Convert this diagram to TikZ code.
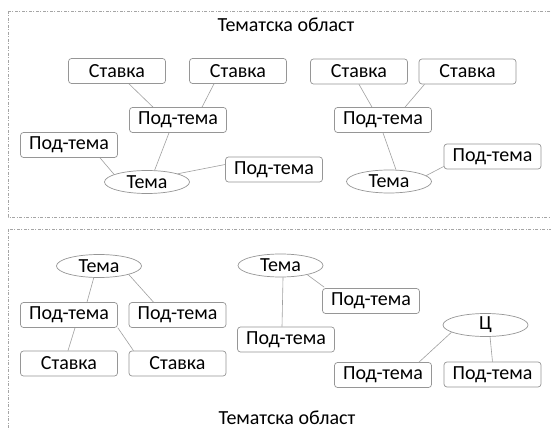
\documentclass[tikz,border=0pt]{standalone}
\usepackage{fontspec}
\setmainfont{Carlito}
\usetikzlibrary{shapes.geometric}
\definecolor{frame}{RGB}{150,150,150}
\definecolor{link}{RGB}{160,160,160}
\definecolor{area}{RGB}{165,165,165}
\begin{document}
\begin{tikzpicture}[x=1pt,y=-1pt,
  every node/.style={font=\fontsize{20}{22}\selectfont, text=black},
  topicbox/.style={draw=frame, line width=0.7pt, rounded corners=3pt,
    minimum width=97pt, minimum height=25pt, inner sep=0pt},
  topicoval/.style={draw=frame, line width=0.7pt, ellipse,
    minimum width=85pt, minimum height=23pt, inner sep=0pt},
  areaframe/.style={draw=area, line width=0.6pt,
    dash pattern=on 3pt off 1.5pt on 1pt off 1.5pt},
  linkline/.style={draw=link, line width=0.6pt}]
\useasboundingbox (0,0) rectangle (551,430);
\clip (0,0) rectangle (551,430);
\fill[white] (0,0) rectangle (551,430);

% the two subject areas
\draw[areaframe] (8,11) rectangle (570,217);
\draw[areaframe] (8,229) rectangle (570,450);
\node (title1) at (286,25) {Тематска област};
\node[inner sep=0pt] (title2) at (287,418) {Тематска област};

% upper area, left tree
\node[topicbox] (s1) at (117,71) {Ставка};
\node[topicbox] (s2) at (238,71) {Ставка};
\node[topicbox] (p1) at (178,120) {Под-тема};
\node[topicbox] (pl) at (69,145) {Под-тема};
\node[topicbox] (pr) at (274,169.5) {Под-тема};
\node[topicoval] (t1) at (147,182) {Тема};

\draw[linkline] ([xshift=12pt]s1.south) -- ([xshift=-25pt]p1.north);
\draw[linkline] ([xshift=-24pt]s2.south) -- ([xshift=24pt]p1.north);
\draw[linkline] ([xshift=-9pt]p1.south) -- (t1.57);
\draw[linkline] ([xshift=31pt]pl.south) -- (t1.167);
\draw[linkline] (t1.15) -- ([yshift=5pt]pr.west);

% upper area, right tree
\node[topicbox] (s3) at (359,71.5) {Ставка};
\node[topicbox] (s4) at (467.5,71.5) {Ставка};
\node[topicbox] (p2) at (383,120) {Под-тема};
\node[topicbox] (q1) at (492.5,156.5) {Под-тема};
\node[topicoval] (t2) at (389,181.5) {Тема};

\draw[linkline] (s3.south) -- ([xshift=-11pt]p2.north);
\draw[linkline] ([xshift=-43pt]s4.south) -- ([xshift=22pt]p2.north);
\draw[linkline] (p2.south) -- (t2.59);
\draw[linkline] (t2.9) -- ([yshift=-10pt]q1.west);

% lower area, left tree
\node[topicoval] (t3) at (99,266) {Тема};
\node[topicbox] (a1) at (69,315) {Под-тема};
\node[topicbox] (b1) at (177.5,315) {Под-тема};
\node[topicbox] (c1) at (69,363.5) {Ставка};
\node[topicbox] (d1) at (177.5,363.5) {Ставка};

\draw[linkline] (t3.-114) -- ([xshift=18pt]a1.north);
\draw[linkline] (t3.-16) -- ([xshift=-24pt]b1.north);
\draw[linkline] ([xshift=6pt]a1.south) -- ([xshift=-1pt]c1.north);
\draw[linkline] (a1.south east) -- ([xshift=-44pt]d1.north);

% lower area, middle tree
\node[topicoval] (t4) at (280.5,265.5) {Тема};
\node[topicbox] (e1) at (286,339.5) {Под-тема};
\node[topicbox] (f1) at (371,301) {Под-тема};

\draw[linkline] (t4.-78) -- ([xshift=-4pt]e1.north);
\draw[linkline] (t4.-19) -- ([xshift=2pt,yshift=1pt]f1.north west);

% lower area, right tree
\node[topicoval] (t5) at (485.5,325) {Ц};
\node[topicbox] (g1) at (383,375) {Под-тема};
\node[topicbox] (h1) at (492.5,374.5) {Под-тема};

\draw[linkline] (t5.192) -- ([xshift=36pt]g1.north);
\draw[linkline] (t5.-69) -- (h1.north);
\end{tikzpicture}
\end{document}
